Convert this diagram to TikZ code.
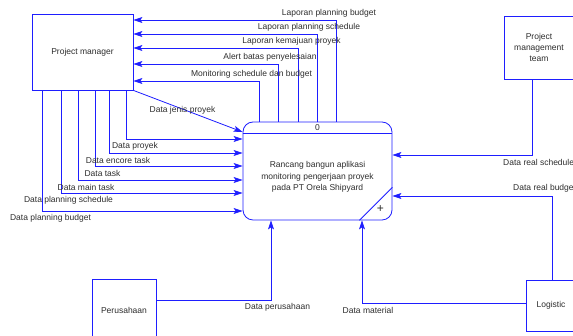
\documentclass[tikz,border=0pt]{standalone}
\usepackage{fontspec}
\setmainfont{Liberation Sans}
\usetikzlibrary{arrows.meta, positioning}
\definecolor{dfdblue}{RGB}{30,30,255}
\definecolor{dfdtext}{RGB}{45,45,45}
\tikzset{
	entity/.style={draw=dfdblue, line width=0.8pt, fill=white, align=center, text=dfdtext, font=\fontsize{8.5}{11}\selectfont, inner sep=0pt},
	flow/.style={draw=dfdblue, line width=0.8pt, -{Stealth[length=9pt,width=6pt,inset=2pt]}},
	lbl/.style={text=dfdtext, font=\fontsize{8.5}{11.5}\selectfont, inner sep=1pt},
}

\begin{document}
\begin{tikzpicture}[x=1pt, y=1pt]
		\clip (0,0) rectangle (573,336);
		
		% entitas luar
		\node[entity, minimum width=101pt, minimum height=76pt] (pm) at (82.5,284) {Project manager};
		\node[entity, minimum width=70pt, minimum height=63pt] (pmt) at (539,288.5) {Project\\management\\team};
		\node[entity, minimum width=64pt, minimum height=62pt] (perusahaan) at (124,26) {Perusahaan};
		\node[entity, minimum width=50pt, minimum height=51pt] (logistic) at (551,30.5) {Logistic};
		
		% proses 0
		\node[entity, rounded corners=10pt, minimum width=149pt, minimum height=98pt] (proc) at (317.5,165) {};
		\draw[dfdblue, line width=0.8pt] ([yshift=-12pt]proc.north west) -- ([yshift=-12pt]proc.north east);
		\draw[dfdblue, line width=0.8pt] ([xshift=-33pt]proc.south east) -- ([yshift=33pt]proc.south east);
		\node[lbl] (procid) at ([yshift=-6pt]proc.north) {0};
		\node[lbl, align=center] (proctext) at ([yshift=-6pt]proc.center) {Rancang bangun aplikasi\\monitoring pengerjaan proyek\\pada PT Orela Shipyard};
		\node[lbl, font=\fontsize{12}{12}\selectfont] (plus) at ([xshift=-12pt, yshift=11pt]proc.south east) {+};
		
		% laporan ke project manager
		\draw[flow] ([xshift=94pt]proc.north west) |- ([yshift=32pt]pm.east);
		\draw[flow] ([xshift=75pt]proc.north west) |- ([yshift=18pt]pm.east);
		\draw[flow] ([xshift=56pt]proc.north west) |- ([yshift=4pt]pm.east);
		\draw[flow] ([xshift=36pt]proc.north west) |- ([yshift=-12pt]pm.east);
		\draw[flow] ([xshift=17pt]proc.north west) |- ([yshift=-29pt]pm.east);
		
		% data dari project manager
		\draw[flow] (pm.south east) -- ([yshift=39pt]proc.west);
		\draw[flow] ([xshift=95pt]pm.south west) |- ([yshift=32pt]proc.west);
		\draw[flow] ([xshift=78pt]pm.south west) |- ([yshift=18pt]proc.west);
		\draw[flow] ([xshift=64pt]pm.south west) |- ([yshift=5pt]proc.west);
		\draw[flow] ([xshift=47pt]pm.south west) |- ([yshift=-9pt]proc.west);
		\draw[flow] ([xshift=30pt]pm.south west) |- ([yshift=-22pt]proc.west);
		\draw[flow] ([xshift=11pt]pm.south west) |- ([yshift=-40pt]proc.west);
		
		% data dari team, logistic, perusahaan
		\draw[flow] ([xshift=-7pt]pmt.south) |- ([yshift=16pt]proc.east);
		\draw[flow] ([xshift=1pt]logistic.north) |- ([yshift=-25pt]proc.east);
		\draw[flow] ([yshift=10pt]perusahaan.east) -| ([xshift=-46.5pt]proc.south);
		\draw[flow] ([yshift=2.5pt]logistic.west) -| ([xshift=44.5pt]proc.south);
		
		% label aliran
		\node[lbl] (lpb) at (329,323) {Laporan planning budget};
		\node[lbl] (lps) at (309,309) {Laporan planning schedule};
		\node[lbl] (lkp) at (291.5,295) {Laporan kemajuan proyek};
		\node[lbl] (abp) at (270,279) {Alert batas penyelesaian};
		\node[lbl] (msb) at (251.5,262) {Monitoring schedule dan budget};
		\node[lbl] (djp) at (182.5,226) {Data jenis proyek};
		\node[lbl] (dp) at (135,190) {Data proyek};
		\node[lbl] (det) at (118,176) {Data encore task};
		\node[lbl] (dt) at (102.5,163) {Data task};
		\node[lbl] (dmt) at (86,149) {Data main task};
		\node[lbl] (dps) at (68.5,136) {Data planning schedule};
		\node[lbl] (dpb) at (50.5,118) {Data planning budget};
		\node[lbl, anchor=west] (drs) at (502,174) {Data real schedule};
		\node[lbl, anchor=west] (drb) at (512,148) {Data real budget};
		\node[lbl] (dpr) at (277.5,29) {Data perusahaan};
		\node[lbl] (dm) at (368,26) {Data material};
	\end{tikzpicture}
\end{document}
